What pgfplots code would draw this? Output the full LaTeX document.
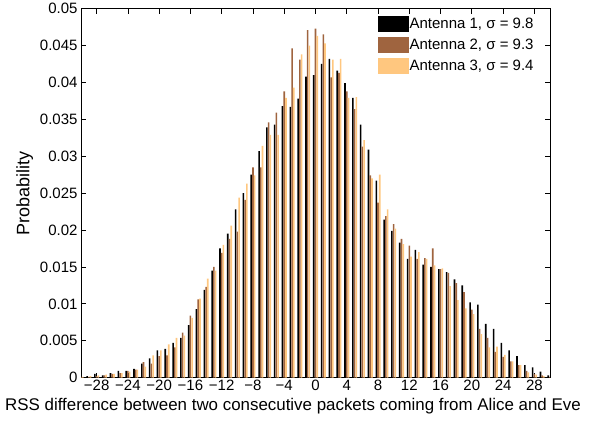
\documentclass[border=0pt]{standalone}
\usepackage{fontspec}
\setmainfont{Liberation Sans}
\usepackage{pgfplots}
\usepackage{pgfplotstable}
\pgfplotsset{compat=1.18}
% copper colormap, 3 levels
\definecolor{ant1}{rgb}{0,0,0}
\definecolor{ant2}{rgb}{0.625,0.3906,0.2488}
\definecolor{ant3}{rgb}{1,0.7812,0.4975}

\pgfplotstableread{
k a1 a2 a3
-30 0.0001 0.0001 0.0001
-29 0.0002 0.0001 0.0002
-28 0.0005 0.0002 0.0003
-27 0.0003 0.0003 0.0004
-26 0.0006 0.0005 0.0005
-25 0.0009 0.0006 0.0006
-24 0.0009 0.0009 0.0008
-23 0.0012 0.0011 0.0011
-22 0.0019 0.0021 0.0015
-21 0.0026 0.0019 0.0030
-20 0.0037 0.0029 0.0037
-19 0.0039 0.0030 0.0045
-18 0.0047 0.0041 0.0054
-17 0.0054 0.0061 0.0057
-16 0.0071 0.0084 0.0081
-15 0.0093 0.0106 0.0107
-14 0.0119 0.0123 0.0134
-13 0.0145 0.0150 0.0145
-12 0.0175 0.0169 0.0180
-11 0.0195 0.0188 0.0206
-10 0.0228 0.0198 0.0244
-9 0.0250 0.0241 0.0263
-8 0.0275 0.0285 0.0274
-7 0.0307 0.0285 0.0314
-6 0.0339 0.0346 0.0329
-5 0.0343 0.0359 0.0329
-4 0.0368 0.0388 0.0379
-3 0.0367 0.0446 0.0393
-2 0.0378 0.0431 0.0438
-1 0.0408 0.0471 0.0450
0 0.0410 0.0473 0.0463
1 0.0425 0.0465 0.0453
2 0.0432 0.0407 0.0431
3 0.0416 0.0413 0.0432
4 0.0399 0.0388 0.0379
5 0.0379 0.0364 0.0380
6 0.0343 0.0313 0.0322
7 0.0309 0.0274 0.0270
8 0.0267 0.0237 0.0275
9 0.0214 0.0219 0.0228
10 0.0199 0.0208 0.0202
11 0.0183 0.0188 0.0181
12 0.0161 0.0179 0.0164
13 0.0173 0.0161 0.0170
14 0.0153 0.0162 0.0161
15 0.0150 0.0175 0.0152
16 0.0147 0.0147 0.0148
17 0.0143 0.0142 0.0124
18 0.0133 0.0128 0.0105
19 0.0125 0.0116 0.0094
20 0.0102 0.0092 0.0086
21 0.0099 0.0066 0.0059
22 0.0073 0.0054 0.0041
23 0.0066 0.0035 0.0042
24 0.0047 0.0028 0.0031
25 0.0037 0.0022 0.0022
26 0.0029 0.0017 0.0017
27 0.0017 0.0009 0.0007
28 0.0014 0.0005 0.0004
29 0.0008 0.0003 0.0002
30 0.0003 0.0001 0.0001
}\rss

\pgfplotsset{
  patchlegend/.style={legend image code/.code={
    \fill[##1,draw=none] (0pt,-8pt) rectangle (31pt,8pt);}},
}

\begin{document}
\begin{tikzpicture}
\begin{axis}[
  scale only axis, width=469pt, height=369pt,
  xmin=-30, xmax=30, ymin=0, ymax=0.05,
  ybar, bar width=1.6pt,
  xtick={-28,-24,...,28},
  xticklabels={−28,−24,−20,−16,−12,−8,−4,0,4,8,12,16,20,24,28},
  ytick={0,0.005,0.01,0.015,0.02,0.025,0.03,0.035,0.04,0.045,0.05},
  yticklabels={0,0.005,0.01,0.015,0.02,0.025,0.03,0.035,0.04,0.045,0.05},
  scaled y ticks=false,
  tick align=inside, major tick length=5pt,
  axis line style={line width=0.9pt},
  every tick/.style={black, line width=0.8pt},
  tick label style={font=\fontsize{15}{18}\selectfont},
  xticklabel style={inner sep=2.5pt},
  xlabel={RSS difference between two consecutive packets coming from Alice and Eve},
  xlabel style={font=\fontsize{16.9}{20}\selectfont, at={(ticklabel cs:0.452)}, inner sep=1pt, yshift=-4pt},
  ylabel={Probability},
  ylabel style={font=\fontsize{18}{21}\selectfont},
  legend cell align=left,
  legend style={draw=none, fill=none, at={(0.632,0.98)}, anchor=north west,
    inner sep=0pt, row sep=5pt, font=\fontsize{15}{18}\selectfont,
    nodes={inner sep=1pt}},
]
\addplot[fill=ant1, draw=none, bar shift=-1.73pt, patchlegend] table[x=k,y=a1]{\rss};
\addlegendentry{Antenna 1, σ = 9.8}
\addplot[fill=ant2, draw=none, bar shift=0pt, patchlegend] table[x=k,y=a2]{\rss};
\addlegendentry{Antenna 2, σ = 9.3}
\addplot[fill=ant3, draw=none, bar shift=1.73pt, patchlegend] table[x=k,y=a3]{\rss};
\addlegendentry{Antenna 3, σ = 9.4}
\end{axis}
\path (current axis.south west) ++(-81pt,-44pt) rectangle ++(596pt,418pt);
\end{tikzpicture}
\end{document}
